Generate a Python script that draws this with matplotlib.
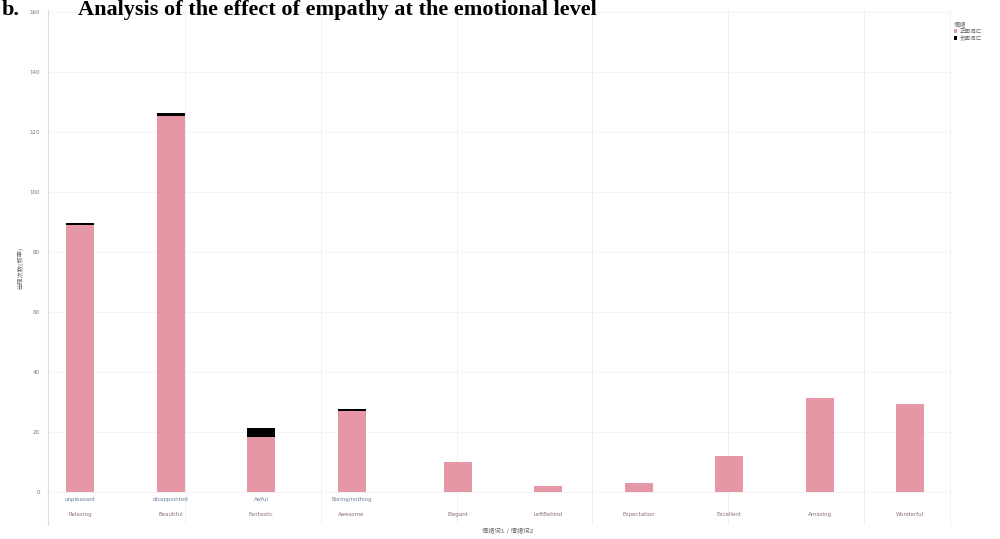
"""
Analisis del efecto de la empatia a nivel emocional (barras apiladas).
"""

import numpy as np
import matplotlib.pyplot as plt

plt.rcParams['font.family'] = ['DejaVu Sans', 'Noto Sans CJK SC']

# Datos
fila_1 = ["unpleasant", "disappointed", "Awful", "Boring/nothing",
          "", "", "", "", "", ""]
fila_2 = ["Relaxing", "Beautiful", "Fantastic", "Awesome", "Elegant",
          "LeftBehind", "Expectation", "Excellent", "Amazing", "Wonderful"]
positivo = [89, 125.5, 18.5, 27, 10, 2, 3, 12, 31.3, 29.3]
negativo = [0.8, 0.8, 3, 0.7, 0, 0, 0, 0, 0, 0]
y_ticks = [0, 20, 40, 60, 80, 100, 120, 140, 160]

rosa = '#e597a6'
# Los cuatro primeros forman un grupo; hueco extra antes del resto
x = np.arange(len(fila_2)) + np.where(np.arange(len(fila_2)) >= 4, 0.17, 0.0)

fig = plt.figure(figsize=(10, 5.39), dpi=100)
ax = fig.add_axes([0.048, 0.026, 0.902, 0.955])

ax.bar(x, positivo, width=0.31, color=rosa, label="正面词汇", zorder=3)
ax.bar(x, negativo, width=0.31, bottom=positivo, color='black',
       label="负面词汇", zorder=3)

ax.set_xlim(-0.354, 9.61)
ax.set_ylim(-11, 160.7)

# Rejilla tenue
for v in y_ticks:
    ax.axhline(v, color='#f2f2f2', linewidth=0.6, zorder=0)
for g in np.arange(1.16, 9.5, 1.5):
    ax.axvline(g, color='#eeeeee', linewidth=0.6, zorder=0)

ax.set_yticks(y_ticks)
ax.set_yticklabels([str(v) for v in y_ticks], fontsize=4, color='#777777')
ax.tick_params(axis='y', length=0, pad=6)
ax.set_xticks([])

for s in ['top', 'bottom']:
    ax.spines[s].set_visible(False)
ax.spines['left'].set_color('#dddddd')
ax.spines['right'].set_color('#eeeeee')
ax.spines['left'].set_linewidth(0.8)
ax.spines['right'].set_linewidth(0.6)

# Etiquetas de categorias en dos filas
for i in range(len(x)):
    ax.text(x[i], -2.6, fila_1[i], ha='center', va='center', fontsize=4,
            color='#6a7f99')
    ax.text(x[i], -7.6, fila_2[i], ha='center', va='center', fontsize=4,
            color='#8a6f77')

ax.set_xlabel("情绪词1 / 情绪词2", fontsize=4.5, color='#666666', labelpad=0)
ax.xaxis.set_label_coords(0.51, -0.005)
ax.set_ylabel("出现次数(频率)", fontsize=4.5, color='#666666', labelpad=4)

leg = ax.legend(loc='upper left', bbox_to_anchor=(1.0, 0.985), frameon=False,
                fontsize=4, title="情绪", title_fontsize=4.5,
                handlelength=0.6, handleheight=0.6, handletextpad=0.4,
                labelspacing=0.25, borderaxespad=0.3)
leg._legend_box.align = 'left'
for t in leg.get_texts():
    t.set_color('#666666')
leg.get_title().set_color('#666666')

# Titulo cortado arriba
fig.text(0.002, 1 - 15 / 539, "b.", fontsize=16, fontweight='bold',
         family='Liberation Serif', ha='left', va='baseline')
fig.text(0.078, 1 - 15 / 539,
         "Analysis of the effect of empathy at the emotional level",
         fontsize=16, fontweight='bold', family='Liberation Serif',
         ha='left', va='baseline')

fig.savefig("out.png", dpi=100)
